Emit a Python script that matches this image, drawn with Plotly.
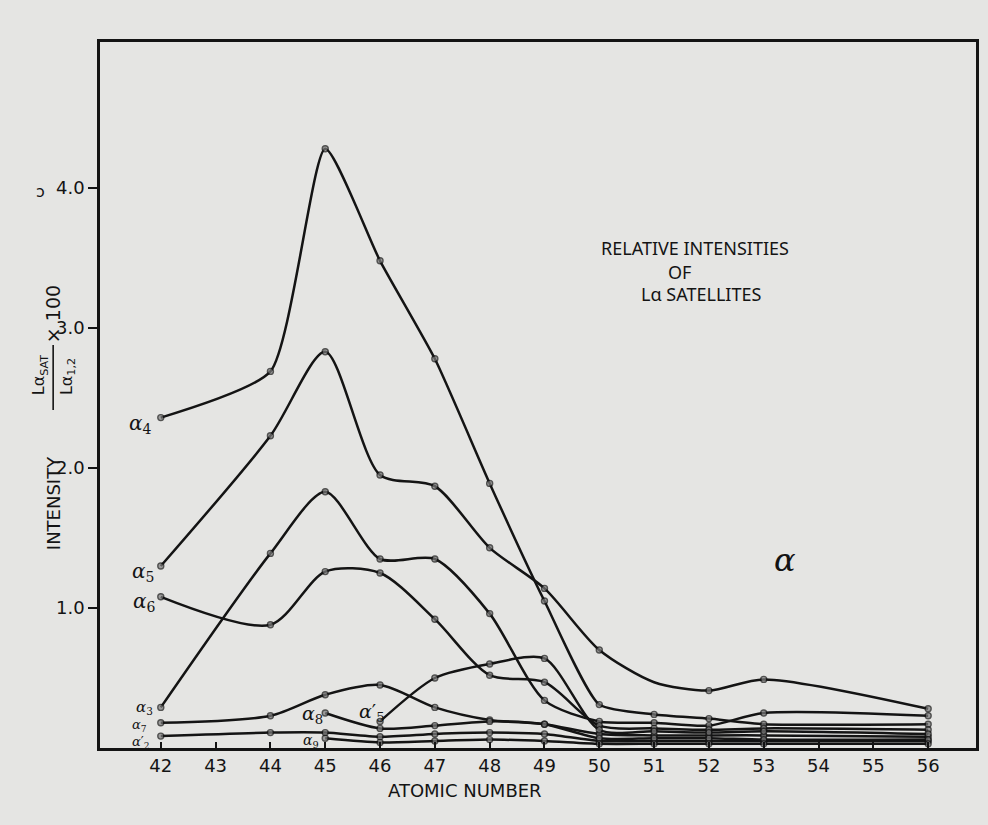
import plotly.graph_objects as go

# Atomic numbers (Z) and relative intensities (I_sat / I_alpha1,2 x 100)
z_full = [42, 44, 45, 46, 47, 48, 49, 50, 51, 52, 53, 56]

alpha4 = [2.36, 2.69, 4.28, 3.48, 2.78, 1.89, 1.05, 0.31, 0.24, 0.21, 0.17, 0.17]
alpha5 = [1.30, 2.23, 2.83, 1.95, 1.87, 1.43, 1.14, 0.70, 0.47, 0.41, 0.49, 0.28]
alpha3 = [0.29, 1.39, 1.83, 1.35, 1.35, 0.96, 0.34, 0.19, 0.18, 0.16, 0.25, 0.23]
alpha6 = [1.08, 0.88, 1.26, 1.25, 0.92, 0.52, 0.47, 0.16, 0.14, 0.13, 0.14, 0.13]
alpha7 = [0.18, 0.23, 0.38, 0.45, 0.29, 0.20, 0.17, 0.10, 0.09, 0.09, 0.09, 0.08]
alpha2p = [0.085, 0.11, 0.11, 0.08, 0.10, 0.11, 0.10, 0.05, 0.05, 0.05, 0.05, 0.05]

z_a5p = [46, 47, 48, 49, 50, 51, 52, 53, 56]
alpha5p = [0.19, 0.50, 0.60, 0.64, 0.13, 0.12, 0.11, 0.12, 0.10]

z_late = [45, 46, 47, 48, 49, 50, 51, 52, 53, 56]
alpha8 = [0.25, 0.14, 0.16, 0.19, 0.17, 0.07, 0.07, 0.07, 0.06, 0.06]
alpha9 = [0.07, 0.04, 0.05, 0.06, 0.05, 0.03, 0.03, 0.03, 0.03, 0.03]

x_ticks = list(range(42, 57))
y_ticks = [1.0, 2.0, 3.0, 4.0]

INK = "#141414"
BG = "#e5e5e3"
W, H = 988, 825
ML, MR, MT, MB = 100, 9, 42, 77
PW, PH = W - ML - MR, H - MT - MB
PX_PER_Z = 55.0
PX_PER_UNIT = 140.0
X0 = 42 - 61 / PX_PER_Z          # left frame edge in Z units


def px(x):
    return (x - ML) / PW


def py(y):
    return (H - MB - y) / PH


fig = go.Figure()

# (Z values, intensities, smoothing, index of a point drawn without a dot)
series = [
    (z_full, alpha4, 0.55, None),
    (z_full, alpha5, 0.75, 8),
    (z_full, alpha3, 0.75, None),
    (z_full, alpha6, 0.8, None),
    (z_full, alpha7, 0.8, None),
    (z_full, alpha2p, 0.6, None),
    (z_a5p, alpha5p, 0.75, None),
    (z_late, alpha8, 0.75, None),
    (z_late, alpha9, 0.6, None),
]

for xs, ys, smooth, hidden in series:
    sizes = [6] * len(xs)
    if hidden is not None:
        sizes[hidden] = 0
    fig.add_trace(go.Scatter(
        x=xs, y=ys, mode="lines+markers",
        line=dict(color=INK, width=2.5, shape="spline", smoothing=smooth),
        marker=dict(size=sizes, color="#7d7d7d", line=dict(color=INK, width=1.4)),
        showlegend=False, hoverinfo="skip",
    ))

font_main = "DejaVu Sans, Noto Sans, sans-serif"
font_head = "Noto Sans, Roboto, sans-serif"

fig.update_layout(
    width=W, height=H,
    margin=dict(l=ML, r=MR, t=MT, b=MB),
    paper_bgcolor=BG, plot_bgcolor=BG,
    font=dict(family=font_main, color=INK, size=16),
    xaxis=dict(
        range=[X0, X0 + PW / PX_PER_Z], tickvals=x_ticks,
        ticktext=[str(v) for v in x_ticks],
        ticks="inside", ticklen=6, tickwidth=1.6, tickcolor=INK,
        showline=True, linewidth=2.6, linecolor=INK, mirror=True,
        showgrid=False, zeroline=False,
        tickfont=dict(family=font_main, size=18, color=INK),
    ),
    yaxis=dict(
        range=[0, PH / PX_PER_UNIT], tickvals=y_ticks,
        ticktext=[f"{v:.1f}" for v in y_ticks],
        ticks="outside", ticklen=9, tickwidth=1.6, tickcolor=INK,
        showline=True, linewidth=2.6, linecolor=INK, mirror=True,
        showgrid=False, zeroline=False,
        tickfont=dict(family=font_main, size=18, color=INK),
    ),
)

ann = []


def text(x, y, s, size=16, angle=0, family=font_main):
    ann.append(dict(x=px(x), y=py(y), xref="paper", yref="paper", text=s,
                    showarrow=False, textangle=angle, xanchor="center",
                    yanchor="middle", font=dict(size=size, color=INK, family=family)))


# axis titles
text(466, 791, "ATOMIC NUMBER", 18)
text(53, 503, "INTENSITY", 18, -90)
text(39, 375, "Lα<sub>SAT</sub>", 16, -90)
text(67, 377, "Lα<sub>1,2</sub>", 16, -90)
text(53, 314, "× 100", 19, -90)
text(40, 192, "ɔ", 16)

# chart heading
text(697, 248, "RELATIVE INTENSITIES", 18, family=font_head)
text(681, 272, "OF", 18, family=font_head)
text(703, 294, "Lα SATELLITES", 18, family=font_head)

# curve labels
serif = "DejaVu Serif, serif"
text(141, 424, "<i>α</i><sub>4</sub>", 20, family=serif)
text(143, 572, "<i>α</i><sub>5</sub>", 20, family=serif)
text(145, 602, "<i>α</i><sub>6</sub>", 20, family=serif)
text(145, 707, "<i>α</i><sub>3</sub>", 15, family=serif)
text(140, 725, "<i>α</i><sub>7</sub>", 13, family=serif)
text(141, 742, "<i>α</i>′<sub>2</sub>", 13, family=serif)
text(313, 714, "<i>α</i><sub>8</sub>", 19, family=serif)
text(373, 712, "<i>α</i>′<sub>5</sub>", 19, family=serif)
text(312, 741, "<i>α</i><sub>9</sub>", 14, family=serif)
text(787, 560, "<i>α</i>", 32, family=serif)

fig.update_layout(annotations=ann)

# fraction bar of the y-axis title
fig.add_shape(type="line", xref="paper", yref="paper",
              x0=px(53), x1=px(53), y0=py(345), y1=py(410),
              line=dict(color=INK, width=1.6))

fig.write_html("out.html")
